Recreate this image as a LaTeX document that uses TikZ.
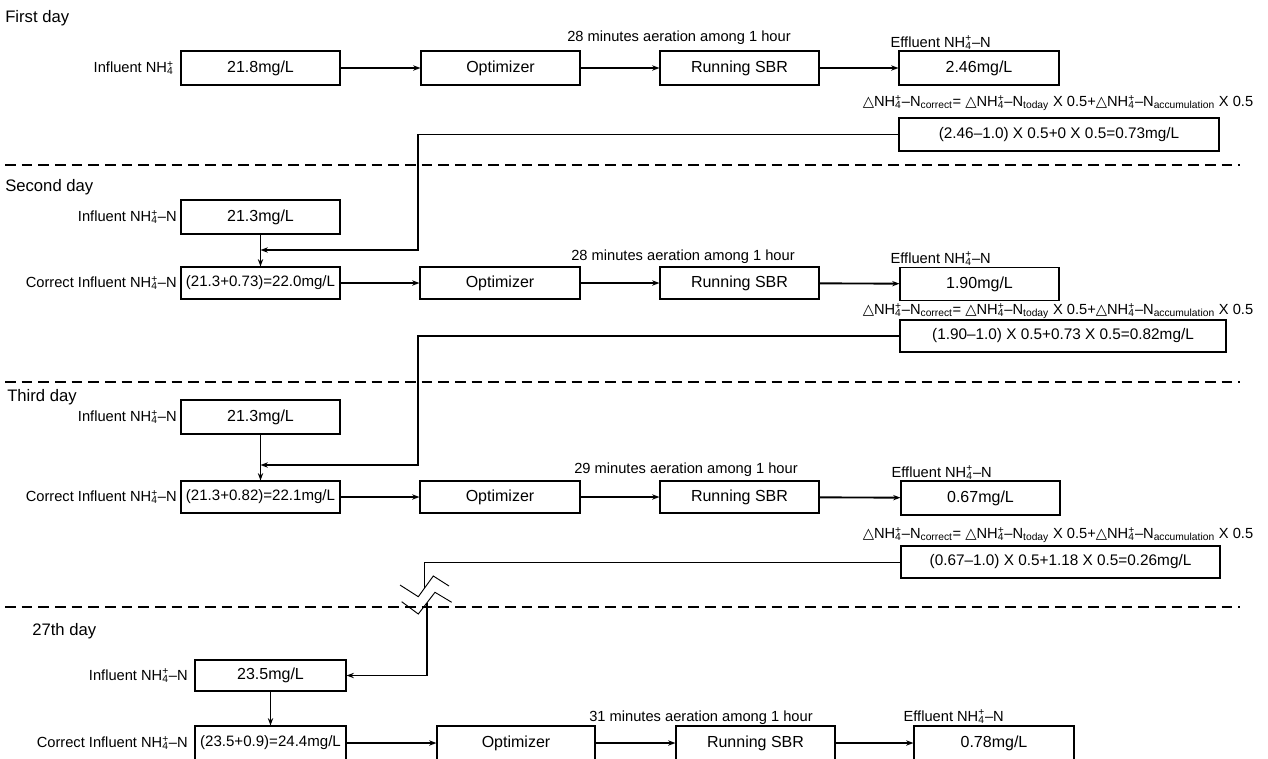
\documentclass[tikz,border=0pt]{standalone}
\usepackage{fontspec}
\setmainfont{Liberation Sans}
\newfontfamily\dejavu{DejaVu Sans}
\usetikzlibrary{arrows.meta}
\newlength\pxu \setlength\pxu{0.75pt}
\newcommand\NHf{NH\rlap{\textsubscript{4}}\textsuperscript{+}}
\newcommand\tri{{\dejavu △}}
\newcommand\fml{\tri\NHf–N\textsubscript{correct}= \tri\NHf–N\textsubscript{today} X 0.5+\tri\NHf–N\textsubscript{accumulation} X 0.5}
\tikzset{
  box/.style={draw, line width=0.8pt, minimum height=34\pxu, inner sep=0pt, font=\fontsize{12}{14}\selectfont},
  fbox/.style={box, font=\fontsize{11.5}{14}\selectfont},
  cbox/.style={box, font=\fontsize{11.3}{14}\selectfont},
  conn/.style={line width=1.4pt, -{Stealth[length=5.5pt,width=4pt]}},
  fb/.style={line width=1.2pt, -{Stealth[length=5.5pt,width=4pt]}},
  thinl/.style={line width=0.7pt},
  lab/.style={anchor=east, inner sep=0pt},
  elab/.style={anchor=south west, inner sep=1pt},
  fmt/.style={inner sep=0pt, font=\fontsize{11}{13}\selectfont},
  day/.style={anchor=west, inner sep=0pt, font=\fontsize{12.5}{15}\selectfont},
  sep/.style={line width=2pt, dash pattern=on 8pt off 4.5pt}
}
\begin{document}
\begin{tikzpicture}[x=0.75pt, y=-0.75pt, font=\fontsize{11}{13}\selectfont]
\useasboundingbox (0,0) rectangle (1268,758);

% ---------------- First day
\node[day] (d1) at (5,18) {First day};
\node[lab] (li1) at (174,68) {Influent \NHf};
\node[box, minimum width=159\pxu] (i1) at (260.5,68) {21.8mg/L};
\node[box, minimum width=159\pxu] (o1) at (500.5,68) {Optimizer};
\node[box, minimum width=159\pxu] (s1) at (739.5,68) {Running SBR};
\node[box, minimum width=160\pxu] (e1) at (979,68) {2.46mg/L};
\node[inner sep=0pt] (a1) at (679,38) {28 minutes aeration among 1 hour};
\node[elab] (le1) at (889,51) {Effluent \NHf–N};
\node[fmt] (fm1) at (1058,103) {\fml};
\node[fbox, minimum width=320\pxu, minimum height=33\pxu] (f1) at (1059,134.5) {(2.46–1.0) X 0.5+0 X 0.5=0.73mg/L};
\draw[conn] (i1) -- (o1);
\draw[conn] (o1) -- (s1);
\draw[conn] (s1) -- (e1);
\draw[sep] (5,165) -- (1240,165);

% ---------------- Second day
\node[day] (d2) at (5,187) {Second day};
\node[lab] (li2) at (177,217) {Influent \NHf–N};
\node[lab] (lc2) at (177,283) {Correct Influent \NHf–N};
\node[box, minimum width=159\pxu] (i2) at (260.5,217) {21.3mg/L};
\node[cbox, minimum width=159\pxu, minimum height=32\pxu] (c2) at (260.5,283) {(21.3+0.73)=22.0mg/L};
\node[box, minimum width=160\pxu, minimum height=32\pxu] (o2) at (500,283) {Optimizer};
\node[box, minimum width=159\pxu, minimum height=32\pxu] (s2) at (739.5,283) {Running SBR};
\node[box, minimum width=159\pxu, minimum height=33\pxu] (e2) at (979.5,284) {1.90mg/L};
\node[inner sep=0pt] (a2) at (683,257) {28 minutes aeration among 1 hour};
\node[elab] (le2) at (889,267) {Effluent \NHf–N};
\node[fmt] (fm2) at (1058,311) {\fml};
\node[fbox, minimum width=326\pxu, minimum height=32\pxu] (f2) at (1063,336) {(1.90–1.0) X 0.5+0.73 X 0.5=0.82mg/L};
\coordinate (k1) at (418,250);
\coordinate (j2) at (260.5,250);
\draw[fb] (f1.west) -| (k1) -- (j2);
\draw[conn] (i2) -- (c2);
\draw[conn] (c2) -- (o2);
\draw[conn] (o2) -- (s2);
\draw[conn] (s2) -- (e2);
\draw[sep] (5,382) -- (1240,382);

% ---------------- Third day
\node[day] (d3) at (7,397) {Third day};
\node[lab] (li3) at (177,417) {Influent \NHf–N};
\node[lab] (lc3) at (177,497) {Correct Influent \NHf–N};
\node[box, minimum width=159\pxu] (i3) at (260.5,417) {21.3mg/L};
\node[cbox, minimum width=159\pxu, minimum height=32\pxu] (c3) at (260.5,497) {(21.3+0.82)=22.1mg/L};
\node[box, minimum width=160\pxu, minimum height=32\pxu] (o3) at (500,497) {Optimizer};
\node[box, minimum width=159\pxu, minimum height=32\pxu] (s3) at (739.5,497) {Running SBR};
\node[box, minimum width=159\pxu, minimum height=34\pxu] (e3) at (980.5,498) {0.67mg/L};
\node[inner sep=0pt] (a3) at (686,470) {29 minutes aeration among 1 hour};
\node[elab] (le3) at (890,481) {Effluent \NHf–N};
\node[fmt] (fm3) at (1058,535) {\fml};
\node[fbox, minimum width=319\pxu, minimum height=32\pxu] (f3) at (1060.5,562) {(0.67–1.0) X 0.5+1.18 X 0.5=0.26mg/L};
\coordinate (k2) at (418,465);
\coordinate (j3) at (260.5,465);
\draw[fb] (f2.west) -| (k2) -- (j3);
\draw[conn] (i3) -- (c3);
\draw[conn] (c3) -- (o3);
\draw[conn] (o3) -- (s3);
\draw[conn] (s3) -- (e3);
\coordinate (k3) at (424,588);
\draw[thinl] (f3.west) -| (k3);
\draw[thinl] (400,585) -- (418.3,596.7) -- (433.3,576) -- (449,586);
\draw[thinl] (401.7,601.7) -- (418.3,614) -- (435,592.3) -- (451.7,602.3);
\draw[sep] (5,607) -- (1240,607);

% ---------------- 27th day
\node[day] (d4) at (32,631) {27th day};
\node[lab] (li4) at (188,675.5) {Influent \NHf–N};
\node[lab] (lc4) at (188,743) {Correct Influent \NHf–N};
\node[box, minimum width=151\pxu, minimum height=31\pxu] (i4) at (270.5,675.5) {23.5mg/L};
\node[cbox, minimum width=151\pxu] (c4) at (270.5,743) {(23.5+0.9)=24.4mg/L};
\node[box, minimum width=158\pxu] (o4) at (516,743) {Optimizer};
\node[box, minimum width=159\pxu] (s4) at (755.5,743) {Running SBR};
\node[box, minimum width=160\pxu] (e4) at (994,743) {0.78mg/L};
\node[inner sep=0pt] (a4) at (701,718) {31 minutes aeration among 1 hour};
\node[elab] (le4) at (902,725) {Effluent \NHf–N};
\coordinate (k4) at (427,603);
\draw[fb] (k4) |- (i4.east);
\draw[conn] (i4) -- (c4);
\draw[conn] (c4) -- (o4);
\draw[conn] (o4) -- (s4);
\draw[conn] (s4) -- (e4);
\end{tikzpicture}
\end{document}
